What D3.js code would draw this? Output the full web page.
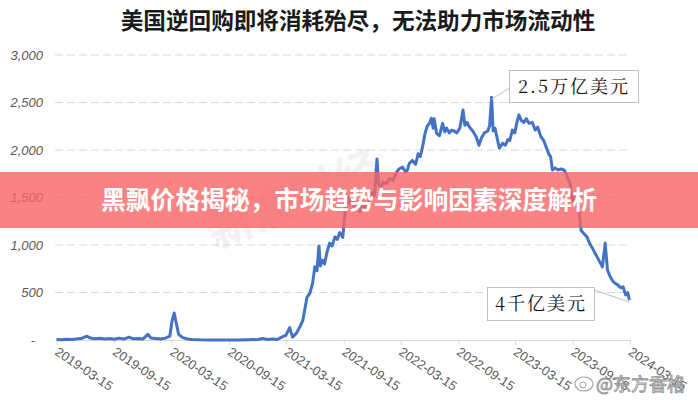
<!DOCTYPE html>
<html>
<head>
<meta charset="utf-8">
<script src="https://cdn.jsdelivr.net/npm/d3@7/dist/d3.min.js"></script>
<style>
  html, body { margin: 0; padding: 0; background: #ffffff; }
  svg { display: block; }
</style>
</head>
<body>
<svg id="chart" width="698" height="400"></svg>
<script>
// ---------------- DATA ----------------
const titleText = "美国逆回购即将消耗殆尽，无法助力市场流动性";
const bannerText = "黑飘价格揭秘，市场趋势与影响因素深度解析";
const peakLabel = "2.5万亿美元";
const endLabel = "4千亿美元";
const watermarkText = "@东方香格";

const yTicks = [0, 500, 1000, 1500, 2000, 2500, 3000];
const xTickLabels = ["2019-03-15","2019-09-15","2020-03-15","2020-09-15","2021-03-15",
  "2021-09-15","2022-03-15","2022-09-15","2023-03-15","2023-09-15","2024-03-15"];

// Fed reverse repo usage (billion USD)
const dates = [
 "2019-03-15","2019-04-01","2019-04-15","2019-05-01","2019-05-15","2019-06-01","2019-06-20","2019-07-01",
 "2019-07-15","2019-08-01","2019-08-15","2019-09-01","2019-09-15","2019-10-01","2019-10-15","2019-11-01",
 "2019-11-15","2019-12-01","2019-12-15","2019-12-31","2020-01-10","2020-01-25","2020-02-10","2020-02-25",
 "2020-03-10","2020-03-17","2020-03-24","2020-03-31","2020-04-07","2020-04-20","2020-05-05","2020-05-20",
 "2020-06-15","2020-07-15","2020-08-15","2020-09-15","2020-10-15","2020-11-15","2020-12-15","2020-12-31",
 "2021-01-15","2021-02-01","2021-02-15","2021-03-01","2021-03-15","2021-03-27","2021-04-05","2021-04-18",
 "2021-04-30","2021-05-08","2021-05-21","2021-05-30","2021-06-08","2021-06-15","2021-06-22","2021-06-28",
 "2021-07-03","2021-07-09","2021-07-16","2021-07-23","2021-08-01","2021-08-09","2021-08-18","2021-08-26",
 "2021-09-02","2021-09-12","2021-09-18","2021-09-28","2021-10-05","2021-10-12","2021-10-20","2021-10-27",
 "2021-11-05","2021-11-15","2021-11-25","2021-12-07","2021-12-15","2021-12-22","2021-12-30","2022-01-04",
 "2022-01-10","2022-01-20","2022-01-30","2022-02-08","2022-02-19","2022-03-01","2022-03-10","2022-03-21",
 "2022-03-31","2022-04-05","2022-04-12","2022-04-22","2022-05-02","2022-05-10","2022-05-17","2022-05-24",
 "2022-06-01","2022-06-08","2022-06-15","2022-06-21","2022-06-27","2022-06-30","2022-07-08","2022-07-17",
 "2022-07-27","2022-08-03","2022-08-09","2022-08-17","2022-08-25","2022-09-02","2022-09-10","2022-09-20",
 "2022-09-30","2022-10-06","2022-10-13","2022-10-21","2022-10-31","2022-11-11","2022-11-20","2022-11-28",
 "2022-12-07","2022-12-18","2022-12-24","2022-12-30","2023-01-04","2023-01-10","2023-01-15","2023-01-24",
 "2023-02-03","2023-02-12","2023-02-20","2023-02-26","2023-03-06","2023-03-14","2023-03-20","2023-03-27",
 "2023-04-04","2023-04-12","2023-04-20","2023-04-28","2023-05-09","2023-05-18","2023-05-26","2023-06-05",
 "2023-06-14","2023-06-22","2023-06-30","2023-07-06","2023-07-12","2023-07-20","2023-07-30","2023-08-08",
 "2023-08-18","2023-08-28","2023-09-06","2023-09-14","2023-09-20","2023-09-30","2023-10-05","2023-10-11",
 "2023-10-20","2023-10-30","2023-11-07","2023-11-14","2023-11-22","2023-12-01","2023-12-10","2023-12-18",
 "2023-12-27","2024-01-03","2024-01-10","2024-01-18","2024-01-26","2024-02-05","2024-02-14","2024-02-22",
 "2024-03-01","2024-03-08","2024-03-13"
];
const values = [
 5,3,8,5,10,15,40,20,
 12,18,10,15,8,20,10,30,
 12,15,10,60,20,15,10,20,
 40,200,285,170,60,25,10,5,
 2,1,1,0,1,2,5,15,
 5,10,5,30,50,130,30,75,
 150,210,450,490,600,770,730,990,
 780,840,800,915,1020,990,1085,1060,
 1130,1080,1300,1500,1430,1460,1380,1420,
 1350,1420,1390,1470,1550,1520,1905,1650,
 1600,1660,1650,1700,1680,1760,1800,1820,
 1770,1780,1860,1890,1850,1960,1930,2030,
 2175,2250,2280,2335,2230,2330,2175,2150,
 2280,2190,2230,2180,2210,2200,2180,2230,
 2420,2260,2290,2240,2200,2140,2050,2130,
 2180,2200,2260,2555,2200,2230,2150,2020,
 2070,2050,2110,2100,2210,2180,2280,2370,
 2310,2290,2330,2280,2290,2210,2240,2140,
 2100,2030,1960,1930,1790,1810,1790,1800,
 1790,1720,1650,1470,1500,1450,1350,1155,
 1120,1085,1020,980,930,875,820,770,
 1020,740,680,630,600,580,550,560,
 475,500,420
];

// ---------------- LAYOUT ----------------
const W = 698, H = 400;
const svg = d3.select("#chart");
const parse = d3.timeParse("%Y-%m-%d");
const data = dates.map((d, i) => ({ date: parse(d), value: values[i] }));

const x = d3.scaleTime()
  .domain([parse(xTickLabels[0]), parse(xTickLabels[xTickLabels.length - 1])])
  .range([56.5, 630]);
const y = d3.scaleLinear().domain([0, 3000]).range([340, 55]);

// title
svg.append("text")
  .attr("x", 358).attr("y", 29)
  .attr("text-anchor", "middle")
  .attr("font-family", "'Noto Sans CJK SC', sans-serif")
  .attr("font-weight", "bold")
  .attr("font-size", 22.6)
  .attr("fill", "#1a1a1a")
  .text(titleText);

// gridlines
svg.append("g")
  .selectAll("line")
  .data(yTicks.filter(v => v > 0))
  .join("line")
  .attr("x1", 55).attr("x2", 630)
  .attr("y1", d => y(d)).attr("y2", d => y(d))
  .attr("stroke", "#d9d9d9")
  .attr("stroke-width", 1)
  .attr("stroke-dasharray", "8,4");

// y axis (labels only)
const yAxis = d3.axisLeft(y)
  .tickValues(yTicks)
  .tickSize(0)
  .tickPadding(0)
  .tickFormat(d => d === 0 ? "-" : d3.format(",")(d));
const gy = svg.append("g").attr("transform", "translate(43,0)").call(yAxis);
gy.select(".domain").remove();
gy.selectAll("text")
  .attr("font-family", "'Liberation Sans', Arial, sans-serif")
  .attr("font-style", "italic")
  .attr("font-size", 13)
  .attr("fill", "#595959");
gy.selectAll(".tick").filter(d => d === 0).select("text").attr("dx", -8);

// watermark (faint)
svg.append("text")
  .attr("transform", "translate(300,215) rotate(-22)")
  .attr("text-anchor", "middle")
  .attr("font-family", "'Noto Sans CJK SC', sans-serif")
  .attr("font-weight", "bold")
  .attr("font-size", 46)
  .attr("fill", "#bfbfbf")
  .attr("opacity", 0.2)
  .text("新浪财经");

// x axis
const xAxis = d3.axisBottom(x)
  .tickValues(xTickLabels.map(parse))
  .tickSize(5)
  .tickFormat(d3.timeFormat("%Y-%m-%d"));
const gx = svg.append("g").attr("transform", "translate(0,340)").call(xAxis);
gx.select(".domain").attr("stroke", "#d9d9d9").attr("d", "M56.5,0.5H630.5");
gx.selectAll(".tick line").attr("stroke", "#d9d9d9");
gx.selectAll("text")
  .attr("font-family", "'Liberation Sans', Arial, sans-serif")
  .attr("font-size", 13)
  .attr("fill", "#595959")
  .attr("text-anchor", "start")
  .attr("y", 0).attr("dy", 0)
  .attr("transform", "translate(-3,14) rotate(34)");

// line
const line = d3.line().x(d => x(d.date)).y(d => y(d.value));
svg.append("path")
  .datum(data)
  .attr("d", line)
  .attr("fill", "none")
  .attr("stroke", "#4472c4")
  .attr("stroke-width", 3)
  .attr("stroke-linejoin", "round");

// annotations
const peak = data.reduce((a, b) => b.value > a.value ? b : a);
const last = data[data.length - 1];

function callout(bx, by, bw, bh, lx1, ly1, px, py, label, fs) {
  svg.append("line")
    .attr("x1", lx1).attr("y1", ly1).attr("x2", px).attr("y2", py)
    .attr("stroke", "#bfbfbf").attr("stroke-width", 1);
  svg.append("rect")
    .attr("x", bx).attr("y", by).attr("width", bw).attr("height", bh)
    .attr("fill", "#ffffff").attr("stroke", "#bfbfbf").attr("stroke-width", 1);
  svg.append("text")
    .attr("x", bx + bw / 2).attr("y", by + bh / 2 + fs * 0.36)
    .attr("text-anchor", "middle")
    .attr("font-family", "'Noto Serif CJK SC', 'DejaVu Serif', serif")
    .attr("font-size", fs)
    .attr("letter-spacing", 2)
    .attr("fill", "#111")
    .text(label);
}
callout(509.5, 70.5, 129, 32, 509.5, 88, x(peak.date), y(peak.value) + 2, peakLabel, 18);
callout(487.5, 287.5, 107, 33, 594.5, 290, x(last.date), y(last.value) + 2, endLabel, 18);

// banner
svg.append("rect")
  .attr("x", 0).attr("y", 172).attr("width", W).attr("height", 56)
  .attr("fill", "rgb(248,100,100)")
  .attr("opacity", 0.8);
svg.append("text")
  .attr("x", 349).attr("y", 208.5)
  .attr("text-anchor", "middle")
  .attr("font-family", "'Noto Sans CJK SC', sans-serif")
  .attr("font-weight", "bold")
  .attr("font-size", 24.8)
  .attr("fill", "#ffffff")
  .text(bannerText);

// weibo watermark bottom right
const wm = svg.append("g").attr("opacity", 0.9);
wm.append("ellipse")
  .attr("cx", 584).attr("cy", 384).attr("rx", 9).attr("ry", 7)
  .attr("fill", "#ffffff").attr("stroke", "#9a9a9a").attr("stroke-width", 1.2);
wm.append("circle")
  .attr("cx", 583).attr("cy", 385).attr("r", 3)
  .attr("fill", "none").attr("stroke", "#9a9a9a").attr("stroke-width", 1);
wm.append("text")
  .attr("x", 596).attr("y", 391)
  .attr("font-family", "'Noto Sans CJK SC', sans-serif")
  .attr("font-size", 18)
  .attr("fill", "#ffffff")
  .attr("stroke", "#8a8a8a")
  .attr("stroke-width", 0.9)
  .text(watermarkText);
</script>
</body>
</html>
